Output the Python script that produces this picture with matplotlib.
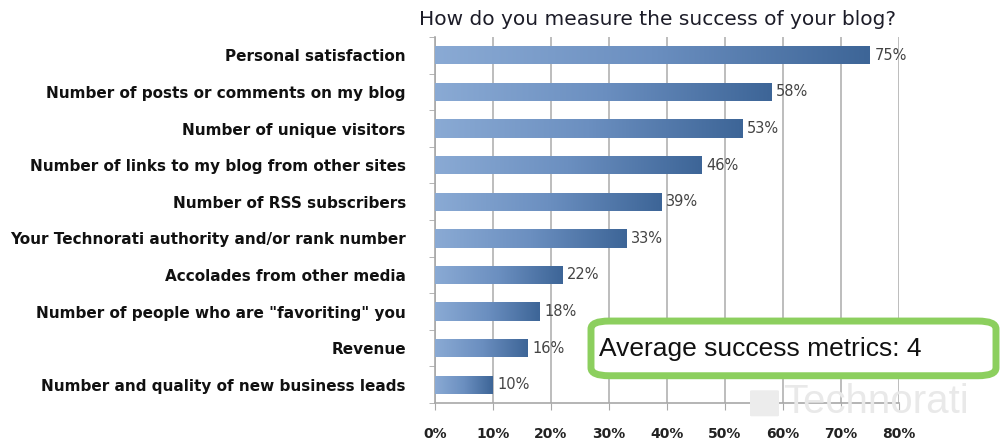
import matplotlib.pyplot as plt
import numpy as np
from matplotlib.colors import LinearSegmentedColormap
from matplotlib.patches import FancyBboxPatch

categories = [
    "Personal satisfaction",
    "Number of posts or comments on my blog",
    "Number of unique visitors",
    "Number of links to my blog from other sites",
    "Number of RSS subscribers",
    "Your Technorati authority and/or rank number",
    "Accolades from other media",
    'Number of people who are "favoriting" you',
    "Revenue",
    "Number and quality of new business leads",
]
values = [75, 58, 53, 46, 39, 33, 22, 18, 16, 10]
ticks = [0, 10, 20, 30, 40, 50, 60, 70, 80]

plt.rcParams["font.family"] = ["DejaVu Sans"]

fig = plt.figure(figsize=(10, 4.41), dpi=100)
ax = fig.add_axes([0.435, 0.086, 0.464, 0.830])

# watermark behind everything
fig.text(0.783, 0.088, "Technorati", fontsize=29, color="#e9e9e9",
         family="Liberation Sans", ha="left", va="center", zorder=0)
fig.patches.append(FancyBboxPatch((0.752, 0.058), 0.025, 0.055,
                                  boxstyle="round,pad=0.002",
                                  transform=fig.transFigure, fc="#ececec",
                                  ec="none", zorder=0))

ax.set_facecolor("none")
y = np.arange(len(categories))
bars = ax.barh(y, values, height=0.5, color="none", zorder=3)

cmap = LinearSegmentedColormap.from_list("blue", ["#8aaad4", "#6b8fc0", "#3d6597"])
grad = np.linspace(0, 1, 256).reshape(1, -1)
for b, v in zip(bars, values):
    x0, y0 = b.get_x(), b.get_y()
    w, h = b.get_width(), b.get_height()
    im = ax.imshow(grad, cmap=cmap, aspect="auto", extent=[x0, x0 + w, y0 + h, y0],
                   zorder=3, interpolation="bicubic")
    im.set_clip_path(b)
    ax.text(x0 + w + 0.8, b.get_y() + h / 2, f"{v}%", va="center", ha="left",
            fontsize=10.5, color="#444444", zorder=4)

ax.set_xlim(0, 80)
ax.set_ylim(len(categories) - 0.5, -0.5)
ax.set_xticks(ticks)
ax.set_xticklabels([f"{t}%" for t in ticks], fontsize=10, fontweight="bold",
                   color="#222222")
ax.set_yticks(y)
ax.set_yticklabels(categories, fontsize=11, fontweight="bold", color="#111111")
ax.set_yticks(np.arange(len(categories) + 1) - 0.5, minor=True)

ax.xaxis.grid(True, color="#bdbdbd", linewidth=1.4, zorder=1)
ax.set_axisbelow(True)
for s in ["top", "right"]:
    ax.spines[s].set_visible(False)
for s in ["left", "bottom"]:
    ax.spines[s].set_color("#a8a8a8")
    ax.spines[s].set_linewidth(1.2)
ax.tick_params(axis="x", length=5, color="#a8a8a8", pad=12)
ax.tick_params(axis="y", which="major", length=0, pad=21)
ax.tick_params(axis="y", which="minor", length=4, color="#a8a8a8")

ax.set_title("How do you measure the success of your blog?", fontsize=14.5,
             color="#1c1c28", x=0.48, pad=9)

box = FancyBboxPatch((0.591, 0.148), 0.405, 0.124, boxstyle="round,pad=0,rounding_size=0.018",
                     transform=fig.transFigure, fc="white", ec="#8ccf5e", lw=5, zorder=5)
fig.patches.append(box)
fig.text(0.76, 0.209, "Average success metrics: 4", fontsize=19, color="#111111",
         family="Liberation Sans", ha="center", va="center", zorder=6)

fig.savefig("out.png", dpi=100)
